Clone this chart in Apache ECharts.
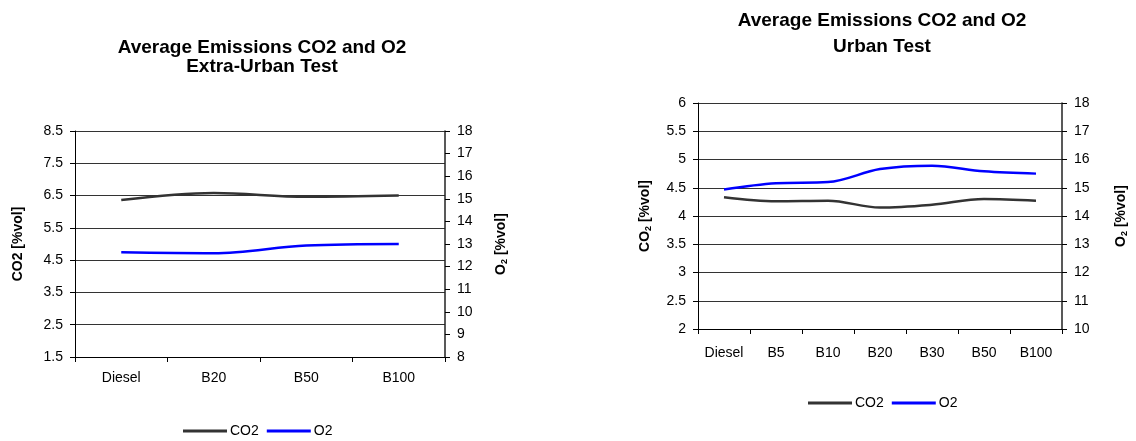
<!DOCTYPE html>
<html>
<head>
<meta charset="utf-8">
<script src="https://cdn.jsdelivr.net/npm/echarts@6/dist/echarts.min.js"></script>
<style>html,body{margin:0;padding:0;background:#fff}#c{width:1136px;height:441px}</style>
</head>
<body>
<div id="c"></div>
<script>
// Extra-Urban test (left chart)
const catsExtra = ['Diesel', 'B20', 'B50', 'B100'];
const co2Extra = [6.36, 6.58, 6.46, 6.5];
const o2Extra = [12.63, 12.59, 12.93, 13.0];
// Urban test (right chart)
const catsUrban = ['Diesel', 'B5', 'B10', 'B20', 'B30', 'B50', 'B100'];
const co2Urban = [4.33, 4.26, 4.27, 4.15, 4.2, 4.3, 4.27];
const o2Urban = [14.94, 15.16, 15.2, 15.66, 15.78, 15.58, 15.5];

const FONT = '"Liberation Sans", Arial, sans-serif';
const chart = echarts.init(document.getElementById('c'), null, {renderer: 'canvas'});

const labelStyle = {color: '#000', fontFamily: FONT, fontSize: 14};
const nameRich = {
  b: {fontFamily: FONT, fontSize: 14, fontWeight: 'bold', color: '#000'},
  s: {fontFamily: FONT, fontSize: 9, fontWeight: 'bold', color: '#000', padding: [7, 0, 0, 0]}
};

function yAxisCfg(gridIndex, pos, min, max, interval, name, nameGap, split) {
  return {
    type: 'value', gridIndex, position: pos, min, max, interval,
    name, nameLocation: 'middle', nameGap, nameRotate: 90,
    nameTextStyle: {rich: nameRich, fontFamily: FONT, fontSize: 14, fontWeight: 'bold', color: '#000'},
    axisLine: {show: true, lineStyle: {color: pos === 'left' ? '#000' : '#222', width: pos === 'left' ? 1 : 1.5}},
    axisTick: {show: true, inside: false, length: 5, lineStyle: {color: '#000'}},
    axisLabel: Object.assign({margin: 12}, labelStyle),
    splitLine: {show: split, lineStyle: {color: '#333', width: 1}}
  };
}

const legendBase = {
  data: ['CO2', 'O2'], icon: 'rect', itemWidth: 44, itemHeight: 3, itemGap: 8, padding: 0,
  textStyle: {fontFamily: FONT, fontSize: 14, color: '#000', padding: [0, 0, 0, -2]}
};

const option = {
  animation: false,
  backgroundColor: '#fff',
  title: [
    {text: 'Average Emissions CO2 and O2\nExtra-Urban Test', left: 257, top: 33, textAlign: 'center',
     textStyle: {fontFamily: FONT, fontSize: 19, fontWeight: 'bold', color: '#000', lineHeight: 19}},
    {text: 'Average Emissions CO2 and O2\nUrban Test', left: 877, top: 3, textAlign: 'center',
     textStyle: {fontFamily: FONT, fontSize: 19, fontWeight: 'bold', color: '#000', lineHeight: 26}}
  ],
  legend: [
    Object.assign({left: 183, top: 424}, legendBase),
    Object.assign({left: 808, top: 396}, legendBase)
  ],
  grid: [
    {left: 75, right: 691, top: 131, bottom: 84, containLabel: false},
    {left: 698, right: 74, top: 103, bottom: 112, containLabel: false}
  ],
  xAxis: [
    {type: 'category', gridIndex: 0, data: catsExtra, boundaryGap: true,
     axisLine: {lineStyle: {color: '#000'}}, axisTick: {show: true, length: 5, lineStyle: {color: '#000'}},
     axisLabel: Object.assign({margin: 14}, labelStyle)},
    {type: 'category', gridIndex: 1, data: catsUrban, boundaryGap: true,
     axisLine: {lineStyle: {color: '#000'}}, axisTick: {show: true, length: 5, lineStyle: {color: '#000'}},
     axisLabel: Object.assign({margin: 17}, labelStyle)}
  ],
  yAxis: [
    yAxisCfg(0, 'left', 1.5, 8.5, 1, '{b|CO2 [%vol]}', 50, true),
    yAxisCfg(0, 'right', 8, 18, 1, '{b|O}{s|2}{b| [%vol]}', 48, false),
    yAxisCfg(1, 'left', 2, 6, 0.5, '{b|CO}{s|2}{b| [%vol]}', 45, true),
    yAxisCfg(1, 'right', 10, 18, 1, '{b|O}{s|2}{b| [%vol]}', 51, false)
  ],
  series: [
    {name: 'CO2', type: 'line', xAxisIndex: 0, yAxisIndex: 0, data: co2Extra, smooth: 0.35, symbol: 'none',
     lineStyle: {color: '#333', width: 2.5}, itemStyle: {color: '#333'}},
    {name: 'O2', type: 'line', xAxisIndex: 0, yAxisIndex: 1, data: o2Extra, smooth: 0.35, symbol: 'none',
     lineStyle: {color: '#0000ff', width: 2.5}, itemStyle: {color: '#0000ff'}},
    {name: 'CO2', type: 'line', xAxisIndex: 1, yAxisIndex: 2, data: co2Urban, smooth: 0.35, symbol: 'none',
     lineStyle: {color: '#333', width: 2.5}, itemStyle: {color: '#333'}},
    {name: 'O2', type: 'line', xAxisIndex: 1, yAxisIndex: 3, data: o2Urban, smooth: 0.35, symbol: 'none',
     lineStyle: {color: '#0000ff', width: 2.5}, itemStyle: {color: '#0000ff'}}
  ]
};
chart.setOption(option);
</script>
</body>
</html>
